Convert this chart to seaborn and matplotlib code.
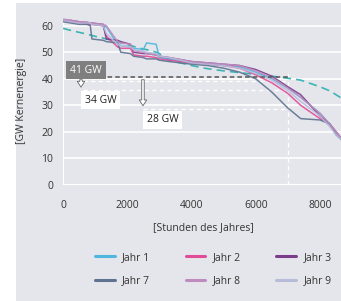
import pandas as pd
import matplotlib.pyplot as plt
import matplotlib.patches as mpatches
from matplotlib.lines import Line2D
import seaborn as sns

sns.set_theme(style="white")
plt.rcParams['font.family'] = ['Open Sans', 'DejaVu Sans']

# Stunden des Jahres (Stuetzstellen der Dauerlinien)
hours = [0, 250, 500, 750, 850, 900, 1250, 1350, 1700, 1800, 2100, 2200, 2500, 2600,
         2900, 3000, 3300, 4000, 4500, 5000, 5500, 6000, 6500, 7000, 7400, 8000, 8300,
         8500, 8760]

jahr1 = [62, 61.5, 61, 61, 60.5, 60.5, 60, 59.5, 53, 52.5, 52, 51.5, 51, 53.5, 53, 48,
         47.5, 46, 45.5, 45, 44.5, 42.5, 40, 36.5, 33, 27, 23, 19, 16]
jahr2 = [62, 61.5, 61, 60.5, 60.5, 60.5, 60, 56, 52, 51.5, 51.5, 49, 48.5, 48.5, 48,
         47.5, 47, 46, 45.5, 45, 44, 41.5, 38.5, 34.5, 30, 25, 23, 20, 16]
jahr3 = [62, 62, 61.5, 61, 61, 61, 60.5, 55, 54.5, 54, 53, 50, 49.5, 49.5, 49, 48.5, 48,
         46.5, 46, 45.5, 45, 43.5, 41, 37, 34, 26, 23, 20, 16]
jahr7 = [61.5, 61, 60.5, 60.5, 60, 55, 54.5, 54, 53.5, 50, 49.5, 48.5, 48, 47.5, 47.5,
         47, 46.5, 45.5, 45, 44, 42.5, 40, 35, 29, 25, 24.5, 23, 19, 16]
jahr8 = [62.5, 62, 61.5, 61.5, 61, 61, 60.5, 60, 54, 53.5, 53, 50.5, 50, 49.5, 49, 48.5,
         48, 46.5, 46, 45.5, 45, 43, 40.5, 36.5, 33, 27, 23, 20, 16]
jahr9 = [62, 61.5, 61, 61, 61, 60.5, 60, 57, 53, 52.5, 52, 51, 50.5, 50, 49.5, 48.5, 48,
         46, 45.5, 45, 44, 42, 39.5, 35.5, 31.5, 26, 22, 19, 16]
referenz = [59, 58.2, 57.5, 56.8, 56.5, 56.3, 55.3, 55, 53.8, 53.5, 52.5, 52.2, 51.2, 51,
            50, 49.5, 47, 45, 43.8, 43, 42.3, 41.7, 41, 40.2, 39.5, 37, 35.5, 34, 32]

series = {'Jahr 1': jahr1, 'Jahr 2': jahr2, 'Jahr 3': jahr3,
          'Jahr 7': jahr7, 'Jahr 8': jahr8, 'Jahr 9': jahr9}
colors = {'Jahr 1': '#4fb6df', 'Jahr 2': '#e24b98', 'Jahr 3': '#7b3c8c',
          'Jahr 7': '#5f7291', 'Jahr 8': '#c08cc0', 'Jahr 9': '#b7bcd9'}

df = pd.concat([pd.DataFrame({'Stunde': hours, 'GW': v, 'Jahr': k}) for k, v in series.items()])

bg = '#e5e6eb'
fig = plt.figure(figsize=(3.41, 3.01), dpi=100)
fig.patch.set_facecolor('white')
fig.patches.append(mpatches.Rectangle((16 / 341, 0), 1, 1 - 3 / 301, transform=fig.transFigure,
                                      facecolor=bg, edgecolor='none', zorder=-10))

ax = fig.add_axes([63 / 341, 116 / 301, 281.4 / 341, 63 * 2.655 / 301])
ax.set_facecolor(bg)

for y in [10, 20, 30, 40, 50, 60]:
    ax.axhline(y, color='white', lw=1.2, zorder=1)
ax.axhline(0, color='white', lw=1.5, zorder=1)
ax.axvline(0, color='white', lw=1.5, zorder=1)

# Hilfslinien
ax.plot([7000, 7000], [0, 43], color='white', lw=1, ls=(0, (3, 2.5)), zorder=1)
ax.plot([620, 7000], [39, 39], color='white', lw=1, ls=(0, (3, 2.5)), zorder=1)
ax.plot([620, 7000], [35.8, 35.8], color='white', lw=1, ls=(0, (3, 2.5)), zorder=1)
ax.plot([2490, 7000], [28.8, 28.8], color='white', lw=1, ls=(0, (3, 2.5)), zorder=1)

ax.plot(hours, referenz, color='#3db4b4', lw=1.2, ls=(0, (5, 3)), zorder=2)

sns.lineplot(data=df, x='Stunde', y='GW', hue='Jahr', palette=colors, estimator=None,
             sort=False, lw=1.1, alpha=0.9, legend=False, ax=ax, zorder=3)

ax.plot([440, 7000], [40.7, 40.7], color='#555555', lw=1.1, ls=(0, (3, 2)), zorder=4)

arrow_kw = dict(arrowstyle='simple,head_width=0.45,head_length=0.35,tail_width=0.15',
                facecolor='white', edgecolor='#666666', lw=0.6)
ax.annotate('', xy=(560, 35.8), xytext=(560, 40.7), arrowprops=arrow_kw, zorder=5)
ax.annotate('', xy=(2490, 28.8), xytext=(2490, 40.7), arrowprops=arrow_kw, zorder=5)

ax.text(716, 43.3, '41 GW', color='white', fontsize=7.5, ha='center', va='center', zorder=6,
        bbox=dict(boxstyle='square,pad=0.35', fc='#7f7f7f', ec='none'))
ax.text(1168, 32.0, '34 GW', color='#222222', fontsize=7.5, ha='center', va='center', zorder=6,
        bbox=dict(boxstyle='square,pad=0.35', fc='white', ec='none'))
ax.text(3100, 24.5, '28 GW', color='#222222', fontsize=7.5, ha='center', va='center', zorder=6,
        bbox=dict(boxstyle='square,pad=0.35', fc='white', ec='none'))

ax.set_xlim(0, 8760)
ax.set_ylim(0, 63)
ax.set_xticks([0, 2000, 4000, 6000, 8000])
ax.set_yticks([0, 10, 20, 30, 40, 50, 60])
ax.tick_params(axis='both', length=0, labelsize=7.5, colors='#333333')
ax.tick_params(axis='x', pad=11)
ax.tick_params(axis='y', pad=7)
for s in ax.spines.values():
    s.set_visible(False)
ax.set_xlabel('[Stunden des Jahres]', fontsize=7.5, color='#333333', labelpad=8)
ax.set_ylabel('')
fig.text(22 / 341, 1 - 101 / 301, '[GW Kernenergie]', rotation=90, fontsize=7.5,
         color='#333333', ha='center', va='center')

order = ['Jahr 1', 'Jahr 7', 'Jahr 2', 'Jahr 8', 'Jahr 3', 'Jahr 9']
handles = [Line2D([0], [0], color=colors[k], lw=2.2) for k in order]
fig.legend(handles, order, loc='upper left', bbox_to_anchor=(95 / 341, 1 - 252 / 301),
           ncol=3, frameon=False, fontsize=7.5, handlelength=1.9, handletextpad=0.7,
           columnspacing=3.4, labelspacing=1.2, borderpad=0, borderaxespad=0,
           labelcolor='#333333')

fig.savefig('out.png', dpi=100)
